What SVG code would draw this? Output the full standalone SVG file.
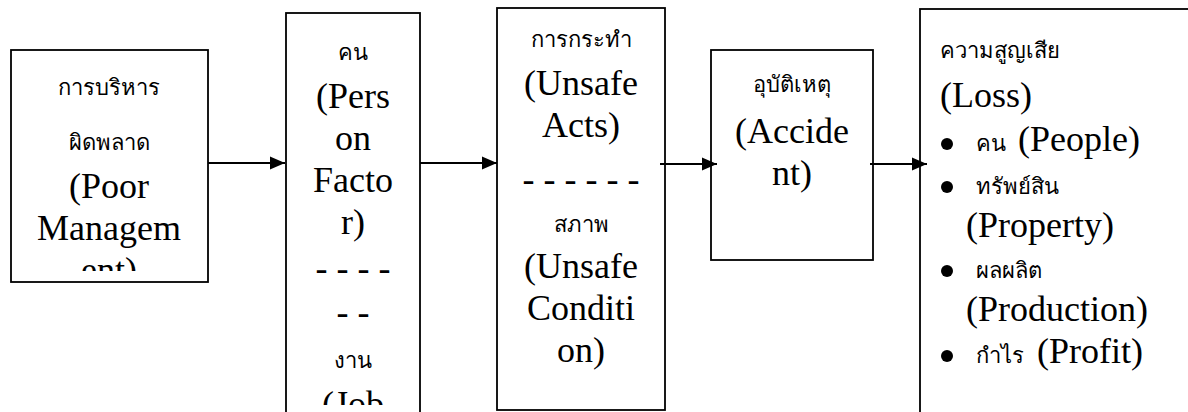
<svg xmlns="http://www.w3.org/2000/svg" width="1188" height="412" viewBox="0 0 1188 412">
  <style>
    .box { fill: #ffffff; stroke: #000000; stroke-width: 1.8; }
    .en { font-family: "Liberation Serif", "Times New Roman", serif; font-size: 36px; fill: #000000; }
    .th { font-family: "Liberation Serif", "DejaVu Serif", serif; font-size: 22px; fill: #000000; }
    .c { text-anchor: middle; }
    .link { stroke: #000000; stroke-width: 1.8; fill: none; marker-end: url(#head); }
  </style>
  <defs>
    <marker id="head" markerUnits="userSpaceOnUse" markerWidth="16" markerHeight="14" refX="15" refY="7" orient="auto">
      <path d="M0,0.5 L15,7 L0,13.5 Z" fill="#000000"/>
    </marker>
    <clipPath id="clip-mgmt"><rect x="11" y="50" width="197" height="221"/></clipPath>
    <clipPath id="clip-person"><rect x="286" y="13" width="134" height="392"/></clipPath>
  </defs>
  <rect width="1188" height="412" fill="#ffffff"/>

  <!-- boxes with their labels -->
  <g id="poor-management">
    <rect class="box" x="11" y="50" width="197" height="232"/>
    <g clip-path="url(#clip-mgmt)">
      <text class="th c" x="109" y="95">การบริหาร</text>
      <text class="th c" x="109" y="150">ผิดพลาด</text>
      <text class="en c" x="109" y="198">(Poor</text>
      <text class="en c" x="109" y="240">Managem</text>
      <text class="en c" x="109" y="282">ent)</text>
    </g>
  </g>

  <g id="person-factor">
    <rect class="box" x="286" y="13" width="134" height="420"/>
    <g clip-path="url(#clip-person)">
      <text class="th c" x="353" y="60">คน</text>
      <text class="en c" x="353" y="108">(Pers</text>
      <text class="en c" x="353" y="150">on</text>
      <text class="en c" x="353" y="192">Facto</text>
      <text class="en c" x="353" y="234">r)</text>
      <text class="en c" x="353" y="280">- - - -</text>
      <text class="en c" x="353" y="324">- -</text>
      <text class="th c" x="353" y="368">งาน</text>
      <text class="en c" x="353" y="416">(Job</text>
    </g>
  </g>

  <g id="unsafe-acts-conditions">
    <rect class="box" x="497" y="8" width="168" height="402"/>
    <text class="th c" x="581" y="47">การกระทำ</text>
    <text class="en c" x="581" y="95">(Unsafe</text>
    <text class="en c" x="581" y="137">Acts)</text>
    <text class="en c" x="581" y="191">- - - - - -</text>
    <text class="th c" x="581" y="232">สภาพ</text>
    <text class="en c" x="581" y="278">(Unsafe</text>
    <text class="en c" x="581" y="320">Conditi</text>
    <text class="en c" x="581" y="362">on)</text>
  </g>

  <g id="accident">
    <rect class="box" x="711" y="50" width="162" height="210"/>
    <text class="th c" x="792" y="92">อุบัติเหตุ</text>
    <text class="en c" x="792" y="143">(Accide</text>
    <text class="en c" x="792" y="185">nt)</text>
  </g>

  <g id="loss">
    <rect class="box" x="920" y="9" width="290" height="420"/>
    <text class="th" x="940" y="58">ความสูญเสีย</text>
    <text class="en" x="940" y="107">(Loss)</text>
    <circle cx="947" cy="144" r="6"/>
    <text x="976" y="151"><tspan class="th">คน</tspan><tspan class="en" x="1018">(People)</tspan></text>
    <circle cx="947" cy="187" r="6"/>
    <text class="th" x="976" y="194">ทรัพย์สิน</text>
    <text class="en" x="966" y="237">(Property)</text>
    <circle cx="947" cy="271" r="6"/>
    <text class="th" x="976" y="278">ผลผลิต</text>
    <text class="en" x="966" y="321">(Production)</text>
    <circle cx="947" cy="356" r="6"/>
    <text x="976" y="363"><tspan class="th">กำไร</tspan><tspan class="en" x="1037">(Profit)</tspan></text>
  </g>

  <!-- arrows between the stages -->
  <g id="connectors">
    <line class="link" x1="208" y1="163" x2="285" y2="163"/>
    <line class="link" x1="420" y1="163" x2="497" y2="163"/>
    <line class="link" x1="660" y1="164" x2="717" y2="164"/>
    <line class="link" x1="870" y1="164" x2="927" y2="164"/>
  </g>
</svg>
